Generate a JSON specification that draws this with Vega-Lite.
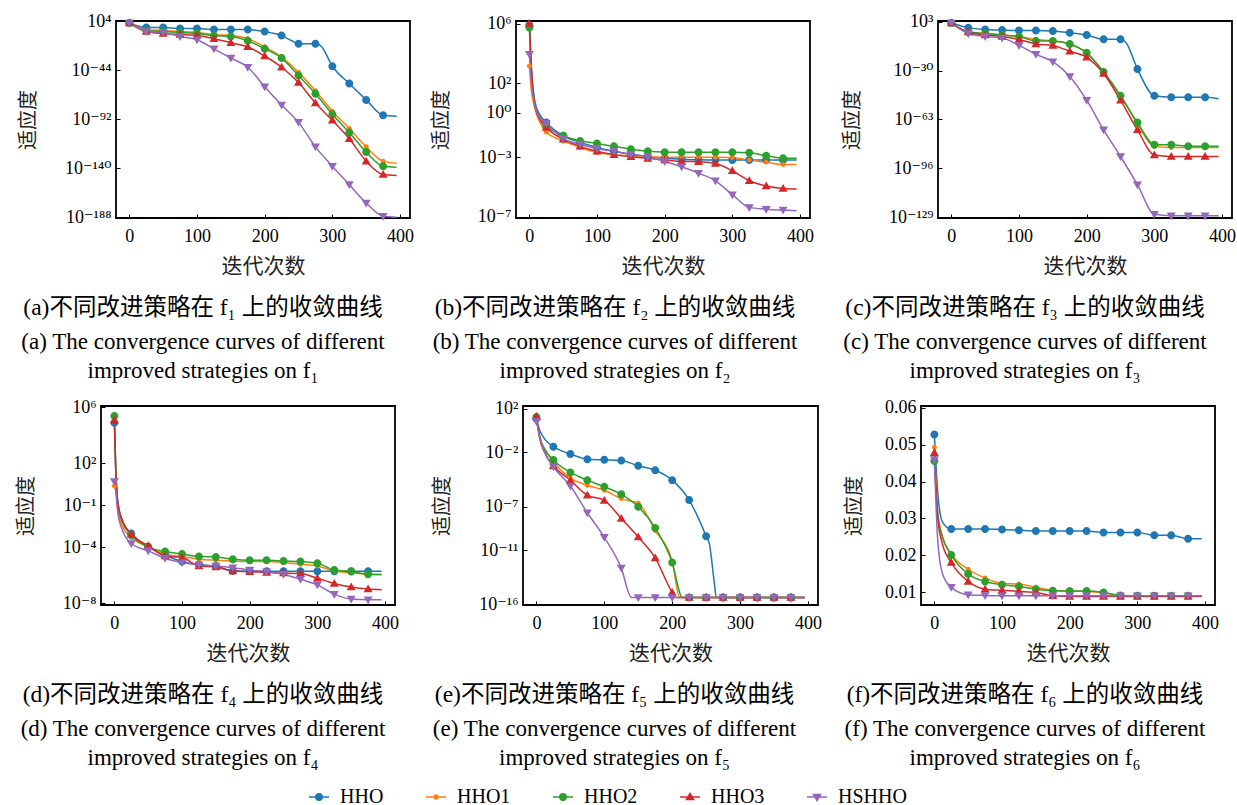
{
"$schema": "https://vega.github.io/schema/vega-lite/v6.json",
"padding": {"left": 15, "top": 11, "right": 0, "bottom": 0},
"background": "white",
"bounds": "flush",
"spacing": 385,
"datasets": {
"a": [
{"i":0,"HHO":250,"HHO1":250,"HHO2":250,"HHO3":250,"HSHHO":250},
{"i":25,"HHO":1e-2,"HHO1":1e-4,"HHO2":1e-5,"HHO3":1e-6,"HSHHO":1e-6},
{"i":50,"HHO":1e-2,"HHO1":1e-5,"HHO2":1e-6,"HHO3":1e-8,"HSHHO":1e-7},
{"i":75,"HHO":1e-3,"HHO1":1e-6,"HHO2":1e-7,"HHO3":1e-9,"HSHHO":1e-11},
{"i":100,"HHO":1e-3,"HHO1":1e-7,"HHO2":1e-8,"HHO3":1e-10,"HSHHO":1e-14},
{"i":125,"HHO":1e-4,"HHO1":1e-9,"HHO2":1e-10,"HHO3":1e-13,"HSHHO":1e-23},
{"i":150,"HHO":1e-4,"HHO1":1e-10,"HHO2":1e-11,"HHO3":1e-17,"HSHHO":1e-32},
{"i":175,"HHO":1e-4,"HHO1":1e-13,"HHO2":1e-15,"HHO3":1e-21,"HSHHO":1e-41},
{"i":200,"HHO":1e-6,"HHO1":1e-21,"HHO2":1e-23,"HHO3":1e-30,"HSHHO":1e-60},
{"i":225,"HHO":1e-10,"HHO1":1e-31,"HHO2":1e-32,"HHO3":1e-41,"HSHHO":1e-78},
{"i":240,"HHO":1e-15},
{"i":250,"HHO":1e-18,"HHO1":1e-46,"HHO2":1e-49,"HHO3":1e-56,"HSHHO":1e-95},
{"i":275,"HHO":1e-18,"HHO1":1e-64,"HHO2":1e-67,"HHO3":1e-76,"HSHHO":1e-119},
{"i":283,"HHO":1e-20},
{"i":300,"HHO":1e-40,"HHO1":1e-84,"HHO2":1e-87,"HHO3":1e-93,"HSHHO":1e-138},
{"i":325,"HHO":1e-57,"HHO1":1e-101,"HHO2":1e-105,"HHO3":1e-111,"HSHHO":1e-156},
{"i":350,"HHO":1e-73,"HHO1":1e-119,"HHO2":1e-124,"HHO3":1e-133,"HSHHO":1e-174},
{"i":375,"HHO":1e-88,"HHO1":1e-133,"HHO2":1e-138,"HHO3":1e-146,"HSHHO":1e-187},
{"i":395,"HHO":1e-89,"HHO1":1e-135,"HHO2":1e-139,"HHO3":1e-147,"HSHHO":1e-188}
],
"b": [
{"i":0,"HHO":8e5,"HHO1":1400,"HHO2":5.4e5,"HHO3":1e6,"HSHHO":8700},
{"i":3,"HHO":1000,"HHO1":32,"HHO2":630,"HHO3":1000,"HSHHO":100},
{"i":8,"HHO":6.3,"HHO1":2,"HHO2":4,"HHO3":3.2,"HSHHO":3.2},
{"i":15,"HHO":0.8,"HHO1":0.25,"HHO2":0.5,"HHO3":0.4,"HSHHO":0.5},
{"i":25,"HHO":0.22,"HHO1":0.051,"HHO2":0.13,"HHO3":0.1,"HSHHO":0.19},
{"i":50,"HHO":0.028,"HHO1":0.0126,"HHO2":0.028,"HHO3":0.0166,"HSHHO":0.018},
{"i":75,"HHO":0.01,"HHO1":0.0046,"HHO2":0.0126,"HHO3":0.0054,"HSHHO":0.0076},
{"i":100,"HHO":0.0046,"HHO1":0.0021,"HHO2":0.0085,"HHO3":0.0025,"HSHHO":0.0039},
{"i":125,"HHO":0.0025,"HHO1":0.0015,"HHO2":0.0054,"HHO3":0.0015,"HSHHO":0.0025},
{"i":150,"HHO":0.0016,"HHO1":0.00126,"HHO2":0.0035,"HHO3":0.00107,"HSHHO":0.0016},
{"i":175,"HHO":0.0011,"HHO1":0.00107,"HHO2":0.0025,"HHO3":0.00083,"HSHHO":0.00107},
{"i":200,"HHO":0.00087,"HHO1":0.001,"HHO2":0.0022,"HHO3":0.00065,"HSHHO":0.00052},
{"i":225,"HHO":0.00074,"HHO1":0.001,"HHO2":0.0022,"HHO3":0.00052,"HSHHO":0.00023},
{"i":250,"HHO":0.00068,"HHO1":0.001,"HHO2":0.0022,"HHO3":0.0005,"HSHHO":0.000085},
{"i":275,"HHO":0.00065,"HHO1":0.001,"HHO2":0.0022,"HHO3":0.00038,"HSHHO":0.000026},
{"i":300,"HHO":0.00065,"HHO1":0.00098,"HHO2":0.0022,"HHO3":0.000123,"HSHHO":0.000003},
{"i":325,"HHO":0.00065,"HHO1":0.00065,"HHO2":0.002,"HHO3":0.000026,"HSHHO":4.2e-7},
{"i":350,"HHO":0.00065,"HHO1":0.00047,"HHO2":0.00126,"HHO3":0.0000115,"HSHHO":3.2e-7},
{"i":375,"HHO":0.00065,"HHO1":0.00032,"HHO2":0.00087,"HHO3":7.9e-6,"HSHHO":2.75e-7},
{"i":395,"HHO":0.00065,"HHO1":0.00032,"HHO2":0.00085,"HHO3":7.2e-6,"HSHHO":2.5e-7}
],
"c": [
{"i":0,"HHO":130,"HHO1":130,"HHO2":130,"HHO3":130,"HSHHO":130},
{"i":25,"HHO":0.1,"HHO1":1e-4,"HHO2":1e-4,"HHO3":1e-4,"HSHHO":1e-5},
{"i":50,"HHO":6e-3,"HHO1":1e-5,"HHO2":1e-5,"HHO3":1e-6,"HSHHO":1e-7},
{"i":75,"HHO":2.5e-3,"HHO1":1e-6,"HHO2":1e-6,"HHO3":1e-7,"HSHHO":1e-8},
{"i":100,"HHO":1.3e-3,"HHO1":1e-7,"HHO2":1e-7,"HHO3":1e-9,"HSHHO":1e-13},
{"i":125,"HHO":1.3e-3,"HHO1":1e-9,"HHO2":1e-10,"HHO3":1e-12,"HSHHO":1e-19},
{"i":150,"HHO":5e-4,"HHO1":1e-10,"HHO2":1e-10,"HHO3":1e-13,"HSHHO":1e-24},
{"i":175,"HHO":4e-5,"HHO1":1e-12,"HHO2":1e-12,"HHO3":1e-17,"HSHHO":1e-34},
{"i":200,"HHO":1e-6,"HHO1":1e-18,"HHO2":1e-18,"HHO3":1e-21,"HSHHO":1e-50},
{"i":225,"HHO":1.3e-9,"HHO1":1e-31,"HHO2":1e-31,"HHO3":1e-32,"HSHHO":1e-70},
{"i":250,"HHO":1.3e-9,"HHO1":1e-47,"HHO2":1e-47,"HHO3":1e-50,"HSHHO":1e-88},
{"i":258,"HHO":1e-11},
{"i":275,"HHO":1e-29,"HHO1":1e-66,"HHO2":1e-65,"HHO3":1e-70,"HSHHO":1e-107},
{"i":300,"HHO":1e-47,"HHO1":1e-81,"HHO2":1e-80,"HHO3":1e-87,"HSHHO":1e-127},
{"i":325,"HHO":1e-48,"HHO1":1e-82,"HHO2":1e-80,"HHO3":1e-88,"HSHHO":1e-128},
{"i":350,"HHO":1e-48,"HHO1":1e-82,"HHO2":1e-81,"HHO3":1e-88,"HSHHO":1e-128},
{"i":375,"HHO":1e-48,"HHO1":1e-82,"HHO2":1e-81,"HHO3":1e-88,"HSHHO":1e-128},
{"i":395,"HHO":1e-49,"HHO1":1e-82,"HHO2":1e-81,"HHO3":1e-88,"HSHHO":1e-128}
],
"d": [
{"i":0,"HHO":8e4,"HHO1":2.4,"HHO2":2.4e5,"HHO3":1.2e5,"HSHHO":4.9},
{"i":2,"HHO":32,"HHO1":1,"HHO2":63,"HHO3":40,"HSHHO":1.26},
{"i":5,"HHO":0.16,"HHO1":0.05,"HHO2":0.2,"HHO3":0.16,"HSHHO":0.032},
{"i":12,"HHO":0.0063,"HHO1":0.0032,"HHO2":0.0063,"HHO3":0.008,"HSHHO":0.0016},
{"i":25,"HHO":9.3e-4,"HHO1":4.8e-4,"HHO2":7.4e-4,"HHO3":8.3e-4,"HSHHO":1.8e-4},
{"i":50,"HHO":1.05e-4,"HHO1":1.05e-4,"HHO2":1.05e-4,"HHO3":1.23e-4,"HSHHO":5.4e-5},
{"i":75,"HHO":2.75e-5,"HHO1":3.2e-5,"HHO2":4.8e-5,"HHO3":2.3e-5,"HSHHO":1.6e-5},
{"i":100,"HHO":9.3e-6,"HHO1":2.1e-5,"HHO2":3.2e-5,"HHO3":1.8e-5,"HSHHO":7.9e-6},
{"i":125,"HHO":5.4e-6,"HHO1":1.35e-5,"HHO2":2.1e-5,"HHO3":4.5e-6,"HSHHO":5.4e-6},
{"i":150,"HHO":4.5e-6,"HHO1":1.15e-5,"HHO2":2e-5,"HHO3":3.8e-6,"HSHHO":4.5e-6},
{"i":175,"HHO":1.95e-6,"HHO1":1.02e-5,"HHO2":1.35e-5,"HHO3":1.95e-6,"HSHHO":3.4e-6},
{"i":200,"HHO":1.9e-6,"HHO1":9.3e-6,"HHO2":1.15e-5,"HHO3":1.75e-6,"HSHHO":2.3e-6},
{"i":225,"HHO":1.9e-6,"HHO1":9.3e-6,"HHO2":1.15e-5,"HHO3":1.5e-6,"HSHHO":1.75e-6},
{"i":250,"HHO":1.9e-6,"HHO1":7.9e-6,"HHO2":1.02e-5,"HHO3":1.4e-6,"HSHHO":1.15e-6},
{"i":275,"HHO":1.9e-6,"HHO1":5.9e-6,"HHO2":9.3e-6,"HHO3":1.3e-6,"HSHHO":5e-7},
{"i":300,"HHO":1.9e-6,"HHO1":4.5e-6,"HHO2":7.1e-6,"HHO3":5.9e-7,"HSHHO":2e-7},
{"i":325,"HHO":1.9e-6,"HHO1":1.95e-6,"HHO2":2.3e-6,"HHO3":2.5e-7,"HSHHO":4.3e-8},
{"i":350,"HHO":1.9e-6,"HHO1":1.5e-6,"HHO2":1.8e-6,"HHO3":1.4e-7,"HSHHO":1.9e-8},
{"i":375,"HHO":1.9e-6,"HHO1":1.15e-6,"HHO2":1.15e-6,"HHO3":1e-7,"HSHHO":1.7e-8},
{"i":395,"HHO":1.9e-6,"HHO1":1.1e-6,"HHO2":1.1e-6,"HHO3":8.9e-8,"HSHHO":1.7e-8}
],
"e": [
{"i":0,"HHO":11.7,"HHO1":17,"HHO2":17,"HHO3":19.5,"HSHHO":7.2},
{"i":5,"HHO":1.0,"HHO1":0.24,"HHO2":0.24,"HHO3":0.17,"HSHHO":0.24},
{"i":12,"HHO":0.17,"HHO1":0.02,"HHO2":0.02,"HHO3":0.01,"HSHHO":0.01},
{"i":25,"HHO":0.032,"HHO1":0.0014,"HHO2":0.0019,"HHO3":5.6e-4,"HSHHO":4.6e-4},
{"i":50,"HHO":0.0068,"HHO1":4.1e-5,"HHO2":1.4e-4,"HHO3":2.7e-5,"HSHHO":7.9e-6},
{"i":75,"HHO":0.0023,"HHO1":9.1e-6,"HHO2":2.7e-5,"HHO3":1.1e-6,"HSHHO":2.7e-8},
{"i":100,"HHO":0.002,"HHO1":3.2e-6,"HHO2":6.5e-6,"HHO3":3.7e-7,"HSHHO":1.5e-10},
{"i":125,"HHO":0.0017,"HHO1":5.4e-7,"HHO2":1.35e-6,"HHO3":8.1e-9,"HSHHO":2.2e-13},
{"i":140,"HSHHO":4.4e-16},
{"i":150,"HHO":5.6e-4,"HHO1":2e-7,"HHO2":9.8e-8,"HHO3":1.6e-10,"HSHHO":4.4e-16},
{"i":175,"HHO":2.2e-4,"HHO1":6.3e-10,"HHO2":1.1e-9,"HHO3":1.9e-12,"HSHHO":4.4e-16},
{"i":200,"HHO":2.7e-5,"HHO1":9.1e-13,"HHO2":7.2e-13,"HHO3":1.26e-15,"HSHHO":4.4e-16},
{"i":205,"HHO3":4.4e-16},
{"i":211,"HHO1":4.4e-16},
{"i":215,"HHO2":4.4e-16},
{"i":225,"HHO":4e-7,"HHO1":4.4e-16,"HHO2":4.4e-16,"HHO3":4.4e-16,"HSHHO":4.4e-16},
{"i":250,"HHO":1.9e-10,"HHO1":4.4e-16,"HHO2":4.4e-16,"HHO3":4.4e-16,"HSHHO":4.4e-16},
{"i":255,"HHO":3.2e-11},
{"i":262,"HHO":1e-14},
{"i":265,"HHO":4.4e-16},
{"i":275,"HHO":4.4e-16,"HHO1":4.4e-16,"HHO2":4.4e-16,"HHO3":4.4e-16,"HSHHO":4.4e-16},
{"i":300,"HHO":4.4e-16,"HHO1":4.4e-16,"HHO2":4.4e-16,"HHO3":4.4e-16,"HSHHO":4.4e-16},
{"i":325,"HHO":4.4e-16,"HHO1":4.4e-16,"HHO2":4.4e-16,"HHO3":4.4e-16,"HSHHO":4.4e-16},
{"i":350,"HHO":4.4e-16,"HHO1":4.4e-16,"HHO2":4.4e-16,"HHO3":4.4e-16,"HSHHO":4.4e-16},
{"i":375,"HHO":4.4e-16,"HHO1":4.4e-16,"HHO2":4.4e-16,"HHO3":4.4e-16,"HSHHO":4.4e-16},
{"i":395,"HHO":4.4e-16,"HHO1":4.4e-16,"HHO2":4.4e-16,"HHO3":4.4e-16,"HSHHO":4.4e-16}
],
"f": [
{"i":0,"HHO":0.0528,"HHO1":0.0493,"HHO2":0.0456,"HHO3":0.0478,"HSHHO":0.046},
{"i":5,"HHO":0.037,"HHO1":0.032,"HHO2":0.031,"HHO3":0.030,"HSHHO":0.024},
{"i":12,"HHO":0.029,"HHO1":0.025,"HHO2":0.025,"HHO3":0.023,"HSHHO":0.015},
{"i":25,"HHO":0.0271,"HHO1":0.0203,"HHO2":0.0201,"HHO3":0.018,"HSHHO":0.0113},
{"i":50,"HHO":0.0271,"HHO1":0.0162,"HHO2":0.0149,"HHO3":0.0129,"HSHHO":0.0093},
{"i":75,"HHO":0.0271,"HHO1":0.0138,"HHO2":0.0129,"HHO3":0.0108,"HSHHO":0.0091},
{"i":100,"HHO":0.027,"HHO1":0.0124,"HHO2":0.012,"HHO3":0.0105,"HSHHO":0.009},
{"i":125,"HHO":0.0268,"HHO1":0.0122,"HHO2":0.0115,"HHO3":0.0102,"HSHHO":0.009},
{"i":150,"HHO":0.0266,"HHO1":0.0113,"HHO2":0.0108,"HHO3":0.0099,"HSHHO":0.009},
{"i":175,"HHO":0.0266,"HHO1":0.0105,"HHO2":0.0104,"HHO3":0.009,"HSHHO":0.009},
{"i":200,"HHO":0.0266,"HHO1":0.0103,"HHO2":0.0103,"HHO3":0.0088,"HSHHO":0.009},
{"i":225,"HHO":0.0266,"HHO1":0.0102,"HHO2":0.0103,"HHO3":0.0088,"HSHHO":0.009},
{"i":250,"HHO":0.0262,"HHO1":0.0097,"HHO2":0.0099,"HHO3":0.0088,"HSHHO":0.009},
{"i":275,"HHO":0.0262,"HHO1":0.0091,"HHO2":0.0091,"HHO3":0.0088,"HSHHO":0.009},
{"i":300,"HHO":0.0262,"HHO1":0.009,"HHO2":0.009,"HHO3":0.0088,"HSHHO":0.009},
{"i":325,"HHO":0.0254,"HHO1":0.009,"HHO2":0.009,"HHO3":0.0088,"HSHHO":0.009},
{"i":350,"HHO":0.0254,"HHO1":0.009,"HHO2":0.009,"HHO3":0.0088,"HSHHO":0.009},
{"i":375,"HHO":0.0245,"HHO1":0.009,"HHO2":0.009,"HHO3":0.0088,"HSHHO":0.009},
{"i":395,"HHO":0.0245,"HHO1":0.009,"HHO2":0.009,"HHO3":0.0088,"HSHHO":0.009}
]
},
"vconcat": [
{"bounds": "flush", "spacing": 0, "hconcat": [
  {"width": 15, "height": 197, "view": {"stroke": null}, "data": {"values": [{}]}, "mark": {"type": "point", "opacity": 0}, "encoding": {}},
  {"bounds": "flush", "spacing": 106, "hconcat": [
    {"width": 294, "height": 197, "data": {"name": "a"},
     "transform": [{"fold": ["HHO","HHO1","HHO2","HHO3","HSHHO"], "as": ["s","v"]}, {"filter": "isValid(datum.v)"}],
     "title": {"text": "(a)不同改进策略在 f₁ 上的收敛曲线", "subtitle": ["(a) The convergence curves of different", "improved strategies on f₁"], "dx": -60},
     "encoding": {
       "x": {"field": "i", "type": "quantitative", "scale": {"domain": [-19.75, 414.75], "nice": false, "zero": false}, "axis": {"values": [0,100,200,300,400], "title": "迭代次数"}},
       "y": {"field": "v", "type": "quantitative", "scale": {"type": "log", "domain": [2e-189, 2e4], "nice": false}, "axis": {"values": [1e4,1e-44,1e-92,1e-140,1e-188], "title": "适应度", "labelExpr": "'10'+replace(replace(replace(replace(replace(replace(replace(replace(replace(replace(replace(''+round(log(datum.value)/LN10),regexp('-','g'),'⁻'),regexp('0','g'),'⁰'),regexp('1','g'),'¹'),regexp('2','g'),'²'),regexp('3','g'),'³'),regexp('4','g'),'⁴'),regexp('5','g'),'⁵'),regexp('6','g'),'⁶'),regexp('7','g'),'⁷'),regexp('8','g'),'⁸'),regexp('9','g'),'⁹')"}},
       "color": {"field": "s", "type": "nominal", "scale": {"domain": ["HHO","HHO1","HHO2","HHO3","HSHHO"], "range": ["#1f77b4","#ff7f0e","#2ca02c","#d62728","#9467bd"]},
         "legend": {"orient": "none", "legendX": 208, "legendY": 766, "direction": "horizontal", "title": null, "labelFont": "Liberation Serif", "labelFontSize": 20, "labelColor": "black", "labelOffset": 11, "columnPadding": 39, "symbolSize": 64,
           "encode": {"symbols": {"update": {"shape": {"scale": "shape", "field": "value"}, "fill": {"scale": "color", "field": "value"}, "stroke": {"scale": "color", "field": "value"}, "strokeWidth": {"value": 1.5}, "size": {"value": 64}, "opacity": {"value": 1}}}}}}
     },
     "layer": [
       {"mark": {"type": "line", "interpolate": "monotone", "strokeWidth": 1.5}},
       {"transform": [{"filter": "datum.i % 25 == 0 && datum.i <= 375"}], "mark": {"type": "point", "filled": true, "size": 100, "strokeWidth": 0, "opacity": 1},
        "encoding": {"shape": {"field": "s", "type": "nominal", "legend": null, "scale": {"domain": ["HHO","HHO1","HHO2","HHO3","HSHHO"], "range": ["M-2.5,0H2.5M0.8,0A0.8,0.8,0,1,1,-0.8,0A0.8,0.8,0,1,1,0.8,0Z","M-2.5,0H2.5M0.5,0A0.5,0.5,0,1,1,-0.5,0A0.5,0.5,0,1,1,0.5,0Z","M-2.5,0H2.5M0.8,0A0.8,0.8,0,1,1,-0.8,0A0.8,0.8,0,1,1,0.8,0Z","M-2.5,0H2.5M0,-0.9L0.9,0.65L-0.9,0.65Z","M-2.5,0H2.5M0,0.9L0.9,-0.65L-0.9,-0.65Z"]}}}}
     ]},
    {"bounds": "flush", "spacing": 128, "hconcat": [
      {"width": 294, "height": 197, "data": {"name": "b"},
       "transform": [{"fold": ["HHO","HHO1","HHO2","HHO3","HSHHO"], "as": ["s","v"]}, {"filter": "isValid(datum.v)"}],
       "title": {"text": "(b)不同改进策略在 f₂ 上的收敛曲线", "subtitle": ["(b) The convergence curves of different", "improved strategies on f₂"], "dx": -48},
       "encoding": {
         "x": {"field": "i", "type": "quantitative", "scale": {"domain": [-19.75, 414.75], "nice": false, "zero": false}, "axis": {"values": [0,100,200,300,400], "title": "迭代次数"}},
         "y": {"field": "v", "type": "quantitative", "scale": {"type": "log", "domain": [8.1e-8, 1.5e6], "nice": false}, "axis": {"values": [1e6,100,1,0.001,1e-7], "title": "适应度", "labelExpr": "'10'+replace(replace(replace(replace(replace(replace(replace(replace(replace(replace(replace(''+round(log(datum.value)/LN10),regexp('-','g'),'⁻'),regexp('0','g'),'⁰'),regexp('1','g'),'¹'),regexp('2','g'),'²'),regexp('3','g'),'³'),regexp('4','g'),'⁴'),regexp('5','g'),'⁵'),regexp('6','g'),'⁶'),regexp('7','g'),'⁷'),regexp('8','g'),'⁸'),regexp('9','g'),'⁹')"}},
         "color": {"field": "s", "type": "nominal", "scale": {"domain": ["HHO","HHO1","HHO2","HHO3","HSHHO"], "range": ["#1f77b4","#ff7f0e","#2ca02c","#d62728","#9467bd"]}}
       },
       "layer": [
         {"mark": {"type": "line", "interpolate": "monotone", "strokeWidth": 1.5}},
         {"transform": [{"filter": "datum.i % 25 == 0 && datum.i <= 375"}], "mark": {"type": "point", "filled": true, "size": 100, "strokeWidth": 0, "opacity": 1},
          "encoding": {"shape": {"field": "s", "type": "nominal", "legend": null, "scale": {"domain": ["HHO","HHO1","HHO2","HHO3","HSHHO"], "range": ["M-2.5,0H2.5M0.8,0A0.8,0.8,0,1,1,-0.8,0A0.8,0.8,0,1,1,0.8,0Z","M-2.5,0H2.5M0.5,0A0.5,0.5,0,1,1,-0.5,0A0.5,0.5,0,1,1,0.5,0Z","M-2.5,0H2.5M0.8,0A0.8,0.8,0,1,1,-0.8,0A0.8,0.8,0,1,1,0.8,0Z","M-2.5,0H2.5M0,-0.9L0.9,0.65L-0.9,0.65Z","M-2.5,0H2.5M0,0.9L0.9,-0.65L-0.9,-0.65Z"]}}}}
       ]},
      {"width": 294, "height": 197, "data": {"name": "c"},
       "transform": [{"fold": ["HHO","HHO1","HHO2","HHO3","HSHHO"], "as": ["s","v"]}, {"filter": "isValid(datum.v)"}],
       "title": {"text": "(c)不同改进策略在 f₃ 上的收敛曲线", "subtitle": ["(c) The convergence curves of different", "improved strategies on f₃"], "dx": -60},
       "encoding": {
         "x": {"field": "i", "type": "quantitative", "scale": {"domain": [-19.75, 414.75], "nice": false, "zero": false}, "axis": {"values": [0,100,200,300,400], "title": "迭代次数"}},
         "y": {"field": "v", "type": "quantitative", "scale": {"type": "log", "domain": [3e-130, 3e3], "nice": false}, "axis": {"values": [1e3,1e-30,1e-63,1e-96,1e-129], "title": "适应度", "labelExpr": "'10'+replace(replace(replace(replace(replace(replace(replace(replace(replace(replace(replace(''+round(log(datum.value)/LN10),regexp('-','g'),'⁻'),regexp('0','g'),'⁰'),regexp('1','g'),'¹'),regexp('2','g'),'²'),regexp('3','g'),'³'),regexp('4','g'),'⁴'),regexp('5','g'),'⁵'),regexp('6','g'),'⁶'),regexp('7','g'),'⁷'),regexp('8','g'),'⁸'),regexp('9','g'),'⁹')"}},
         "color": {"field": "s", "type": "nominal", "scale": {"domain": ["HHO","HHO1","HHO2","HHO3","HSHHO"], "range": ["#1f77b4","#ff7f0e","#2ca02c","#d62728","#9467bd"]}}
       },
       "layer": [
         {"mark": {"type": "line", "interpolate": "monotone", "strokeWidth": 1.5}},
         {"transform": [{"filter": "datum.i % 25 == 0 && datum.i <= 375"}], "mark": {"type": "point", "filled": true, "size": 100, "strokeWidth": 0, "opacity": 1},
          "encoding": {"shape": {"field": "s", "type": "nominal", "legend": null, "scale": {"domain": ["HHO","HHO1","HHO2","HHO3","HSHHO"], "range": ["M-2.5,0H2.5M0.8,0A0.8,0.8,0,1,1,-0.8,0A0.8,0.8,0,1,1,0.8,0Z","M-2.5,0H2.5M0.5,0A0.5,0.5,0,1,1,-0.5,0A0.5,0.5,0,1,1,0.5,0Z","M-2.5,0H2.5M0.8,0A0.8,0.8,0,1,1,-0.8,0A0.8,0.8,0,1,1,0.8,0Z","M-2.5,0H2.5M0,-0.9L0.9,0.65L-0.9,0.65Z","M-2.5,0H2.5M0,0.9L0.9,-0.65L-0.9,-0.65Z"]}}}}
       ]}
    ]}
  ]}
]},
{"bounds": "flush", "spacing": 128, "hconcat": [
  {"width": 294, "height": 199, "data": {"name": "d"},
   "transform": [{"fold": ["HHO","HHO1","HHO2","HHO3","HSHHO"], "as": ["s","v"]}, {"filter": "isValid(datum.v)"}],
   "title": {"text": "(d)不同改进策略在 f₄ 上的收敛曲线", "subtitle": ["(d) The convergence curves of different", "improved strategies on f₄"], "dx": -45},
   "encoding": {
     "x": {"field": "i", "type": "quantitative", "scale": {"domain": [-19.75, 414.75], "nice": false, "zero": false}, "axis": {"values": [0,100,200,300,400], "title": "迭代次数"}},
     "y": {"field": "v", "type": "quantitative", "scale": {"type": "log", "domain": [7.2e-9, 1.26e6], "nice": false}, "axis": {"values": [1e6,100,0.1,1e-4,1e-8], "title": "适应度", "labelExpr": "'10'+replace(replace(replace(replace(replace(replace(replace(replace(replace(replace(replace(''+round(log(datum.value)/LN10),regexp('-','g'),'⁻'),regexp('0','g'),'⁰'),regexp('1','g'),'¹'),regexp('2','g'),'²'),regexp('3','g'),'³'),regexp('4','g'),'⁴'),regexp('5','g'),'⁵'),regexp('6','g'),'⁶'),regexp('7','g'),'⁷'),regexp('8','g'),'⁸'),regexp('9','g'),'⁹')"}},
     "color": {"field": "s", "type": "nominal", "scale": {"domain": ["HHO","HHO1","HHO2","HHO3","HSHHO"], "range": ["#1f77b4","#ff7f0e","#2ca02c","#d62728","#9467bd"]}}
   },
   "layer": [
     {"mark": {"type": "line", "interpolate": "monotone", "strokeWidth": 1.5}},
     {"transform": [{"filter": "datum.i % 25 == 0 && datum.i <= 375"}], "mark": {"type": "point", "filled": true, "size": 100, "strokeWidth": 0, "opacity": 1},
      "encoding": {"shape": {"field": "s", "type": "nominal", "legend": null, "scale": {"domain": ["HHO","HHO1","HHO2","HHO3","HSHHO"], "range": ["M-2.5,0H2.5M0.8,0A0.8,0.8,0,1,1,-0.8,0A0.8,0.8,0,1,1,0.8,0Z","M-2.5,0H2.5M0.5,0A0.5,0.5,0,1,1,-0.5,0A0.5,0.5,0,1,1,0.5,0Z","M-2.5,0H2.5M0.8,0A0.8,0.8,0,1,1,-0.8,0A0.8,0.8,0,1,1,0.8,0Z","M-2.5,0H2.5M0,-0.9L0.9,0.65L-0.9,0.65Z","M-2.5,0H2.5M0,0.9L0.9,-0.65L-0.9,-0.65Z"]}}}}
   ]},
  {"bounds": "flush", "spacing": 103, "hconcat": [
    {"width": 295, "height": 199, "data": {"name": "e"},
     "transform": [{"fold": ["HHO","HHO1","HHO2","HHO3","HSHHO"], "as": ["s","v"]}, {"filter": "isValid(datum.v)"}],
     "title": {"text": "(e)不同改进策略在 f₅ 上的收敛曲线", "subtitle": ["(e) The convergence curves of different", "improved strategies on f₅"], "dx": -56},
     "encoding": {
       "x": {"field": "i", "type": "quantitative", "scale": {"domain": [-19.75, 414.75], "nice": false, "zero": false}, "axis": {"values": [0,100,200,300,400], "title": "迭代次数"}},
       "y": {"field": "v", "type": "quantitative", "scale": {"type": "log", "domain": [8.9e-17, 178], "nice": false}, "axis": {"values": [100,0.01,1e-7,1e-11,1e-16], "title": "适应度", "labelExpr": "'10'+replace(replace(replace(replace(replace(replace(replace(replace(replace(replace(replace(''+round(log(datum.value)/LN10),regexp('-','g'),'⁻'),regexp('0','g'),'⁰'),regexp('1','g'),'¹'),regexp('2','g'),'²'),regexp('3','g'),'³'),regexp('4','g'),'⁴'),regexp('5','g'),'⁵'),regexp('6','g'),'⁶'),regexp('7','g'),'⁷'),regexp('8','g'),'⁸'),regexp('9','g'),'⁹')"}},
       "color": {"field": "s", "type": "nominal", "scale": {"domain": ["HHO","HHO1","HHO2","HHO3","HSHHO"], "range": ["#1f77b4","#ff7f0e","#2ca02c","#d62728","#9467bd"]}}
     },
     "layer": [
       {"mark": {"type": "line", "interpolate": "monotone", "strokeWidth": 1.5}},
       {"transform": [{"filter": "datum.i % 25 == 0 && datum.i <= 375"}], "mark": {"type": "point", "filled": true, "size": 100, "strokeWidth": 0, "opacity": 1},
        "encoding": {"shape": {"field": "s", "type": "nominal", "legend": null, "scale": {"domain": ["HHO","HHO1","HHO2","HHO3","HSHHO"], "range": ["M-2.5,0H2.5M0.8,0A0.8,0.8,0,1,1,-0.8,0A0.8,0.8,0,1,1,0.8,0Z","M-2.5,0H2.5M0.5,0A0.5,0.5,0,1,1,-0.5,0A0.5,0.5,0,1,1,0.5,0Z","M-2.5,0H2.5M0.8,0A0.8,0.8,0,1,1,-0.8,0A0.8,0.8,0,1,1,0.8,0Z","M-2.5,0H2.5M0,-0.9L0.9,0.65L-0.9,0.65Z","M-2.5,0H2.5M0,0.9L0.9,-0.65L-0.9,-0.65Z"]}}}}
     ]},
    {"width": 294, "height": 199, "data": {"name": "f"},
     "transform": [{"fold": ["HHO","HHO1","HHO2","HHO3","HSHHO"], "as": ["s","v"]}, {"filter": "isValid(datum.v)"}],
     "title": {"text": "(f)不同改进策略在 f₆ 上的收敛曲线", "subtitle": ["(f) The convergence curves of different", "improved strategies on f₆"], "dx": -43},
     "encoding": {
       "x": {"field": "i", "type": "quantitative", "scale": {"domain": [-19.75, 414.75], "nice": false, "zero": false}, "axis": {"values": [0,100,200,300,400], "title": "迭代次数"}},
       "y": {"field": "v", "type": "quantitative", "scale": {"domain": [0.0065, 0.0605], "nice": false, "zero": false}, "axis": {"values": [0.01,0.02,0.03,0.04,0.05,0.06], "format": ".2f", "title": "适应度", "titlePadding": 20}},
       "color": {"field": "s", "type": "nominal", "scale": {"domain": ["HHO","HHO1","HHO2","HHO3","HSHHO"], "range": ["#1f77b4","#ff7f0e","#2ca02c","#d62728","#9467bd"]}}
     },
     "layer": [
       {"mark": {"type": "line", "interpolate": "monotone", "strokeWidth": 1.5}},
       {"transform": [{"filter": "datum.i % 25 == 0 && datum.i <= 375"}], "mark": {"type": "point", "filled": true, "size": 100, "strokeWidth": 0, "opacity": 1},
        "encoding": {"shape": {"field": "s", "type": "nominal", "legend": null, "scale": {"domain": ["HHO","HHO1","HHO2","HHO3","HSHHO"], "range": ["M-2.5,0H2.5M0.8,0A0.8,0.8,0,1,1,-0.8,0A0.8,0.8,0,1,1,0.8,0Z","M-2.5,0H2.5M0.5,0A0.5,0.5,0,1,1,-0.5,0A0.5,0.5,0,1,1,0.5,0Z","M-2.5,0H2.5M0.8,0A0.8,0.8,0,1,1,-0.8,0A0.8,0.8,0,1,1,0.8,0Z","M-2.5,0H2.5M0,-0.9L0.9,0.65L-0.9,0.65Z","M-2.5,0H2.5M0,0.9L0.9,-0.65L-0.9,-0.65Z"]}}}}
     ]}
  ]}
]}
],
"resolve": {"scale": {"color": "shared", "shape": "shared"}, "legend": {"color": "shared"}},
"config": {
  "view": {"stroke": "black", "strokeWidth": 1.8},
  "axis": {"domain": false, "grid": false, "tickColor": "black", "tickSize": -4, "tickWidth": 1, "labelFont": "Liberation Serif, DejaVu Serif", "labelFontSize": 18, "labelColor": "black", "titleFont": "Noto Sans CJK SC", "titleFontWeight": "normal", "titleColor": "#222", "titleFontSize": 20, "labelOverlap": false, "labelFlush": false},
  "axisX": {"labelPadding": 13, "titlePadding": 10, "titleFontSize": 21},
  "axisY": {"labelPadding": 9, "titlePadding": 26},
  "title": {"orient": "bottom", "anchor": "middle", "frame": "group", "font": "Liberation Serif, Noto Sans CJK SC", "fontSize": 23.5, "fontWeight": "normal", "color": "black", "subtitleFont": "Liberation Serif", "subtitleFontSize": 23, "subtitleColor": "black", "subtitleLineHeight": 29, "subtitlePadding": 11, "offset": 20}
}
}
